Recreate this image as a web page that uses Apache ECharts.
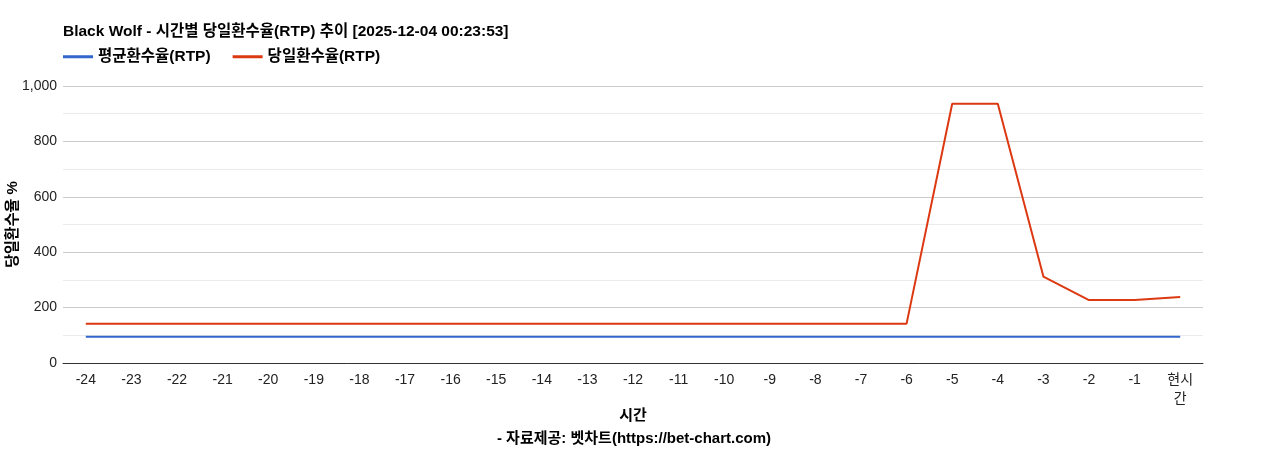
<!DOCTYPE html>
<html><head><meta charset="utf-8">
<script src="https://cdn.jsdelivr.net/npm/echarts@6/dist/echarts.min.js"></script>
<style>html,body{margin:0;padding:0;background:#fff}#c{width:1268px;height:450px}</style>
</head><body><div id="c"></div>
<script>
const categories = ['-24','-23','-22','-21','-20','-19','-18','-17','-16','-15','-14','-13','-12','-11','-10','-9','-8','-7','-6','-5','-4','-3','-2','-1','현시간'];
const avgRtp = [95,95,95,95,95,95,95,95,95,95,95,95,95,95,95,95,95,95,95,95,95,95,95,95,95];
const dailyRtp = [142,142,142,142,142,142,142,142,142,142,142,142,142,142,142,142,142,142,142,936,936,312,227,227,238];
const yTicks = [0,200,400,600,800,1000];

const F = '"Liberation Sans", Arial, "Noto Sans CJK KR", sans-serif';
const chart = echarts.init(document.getElementById('c'));
chart.setOption({
  animation:false,
  textStyle:{fontFamily:F},
  title:[
    {text:'Black Wolf - 시간별 당일환수율(RTP) 추이 [2025-12-04 00:23:53]', left:58, top:19,
     textStyle:{fontFamily:F,fontSize:15.5,fontWeight:'bold',color:'#000'}},
    {text:'- 자료제공: 벳차트(https://bet-chart.com)', left:'center', top:426,
     textStyle:{fontFamily:F,fontSize:15,fontWeight:'bold',color:'#000'}}
  ],
  legend:{left:58, top:44, itemWidth:30, itemHeight:3, itemGap:22,
    icon:'rect',
    textStyle:{fontFamily:F,fontSize:15.5,fontWeight:'bold',color:'#000'},
    data:['평균환수율(RTP)','당일환수율(RTP)']},
  grid:{left:63,right:65,top:86,bottom:87,containLabel:false,outerBoundsMode:'none'},
  xAxis:{type:'category', data:categories, boundaryGap:true,
    name:'시간', nameLocation:'middle', nameGap:45, nameMoveOverlap:false,
    nameTextStyle:{fontFamily:F,fontSize:15,fontWeight:'bold',color:'#000'},
    axisLine:{lineStyle:{color:'#333',width:1}},
    axisTick:{show:false},
    axisLabel:{interval:0, color:'#222', fontSize:14, margin:8, lineHeight:19,
      formatter:v=> v==='현시간' ? '현시\n간' : v}},
  yAxis:{type:'value', min:yTicks[0], max:yTicks[yTicks.length-1], interval:200,
    name:'당일환수율 %', nameLocation:'middle', nameGap:43, nameRotate:90, nameMoveOverlap:false,
    nameTextStyle:{fontFamily:F,fontSize:15,fontWeight:'bold',color:'#000'},
    axisLine:{show:false}, axisTick:{show:false},
    axisLabel:{color:'#222', fontSize:14, margin:6, formatter:v=>v.toLocaleString('en-US')},
    splitLine:{lineStyle:{color:'#cccccc',width:1}},
    minorTick:{show:false, splitNumber:2},
    minorSplitLine:{show:true, lineStyle:{color:'#ebebeb',width:1}}},
  series:[
    {name:'평균환수율(RTP)', type:'line', data:avgRtp, symbol:'none', color:'#3366cc',
     lineStyle:{width:2,color:'#3366cc'}, z:2},
    {name:'당일환수율(RTP)', type:'line', data:dailyRtp, symbol:'none', color:'#dc3912',
     lineStyle:{width:2,color:'#dc3912'}, z:3}
  ]
});
</script></body></html>
